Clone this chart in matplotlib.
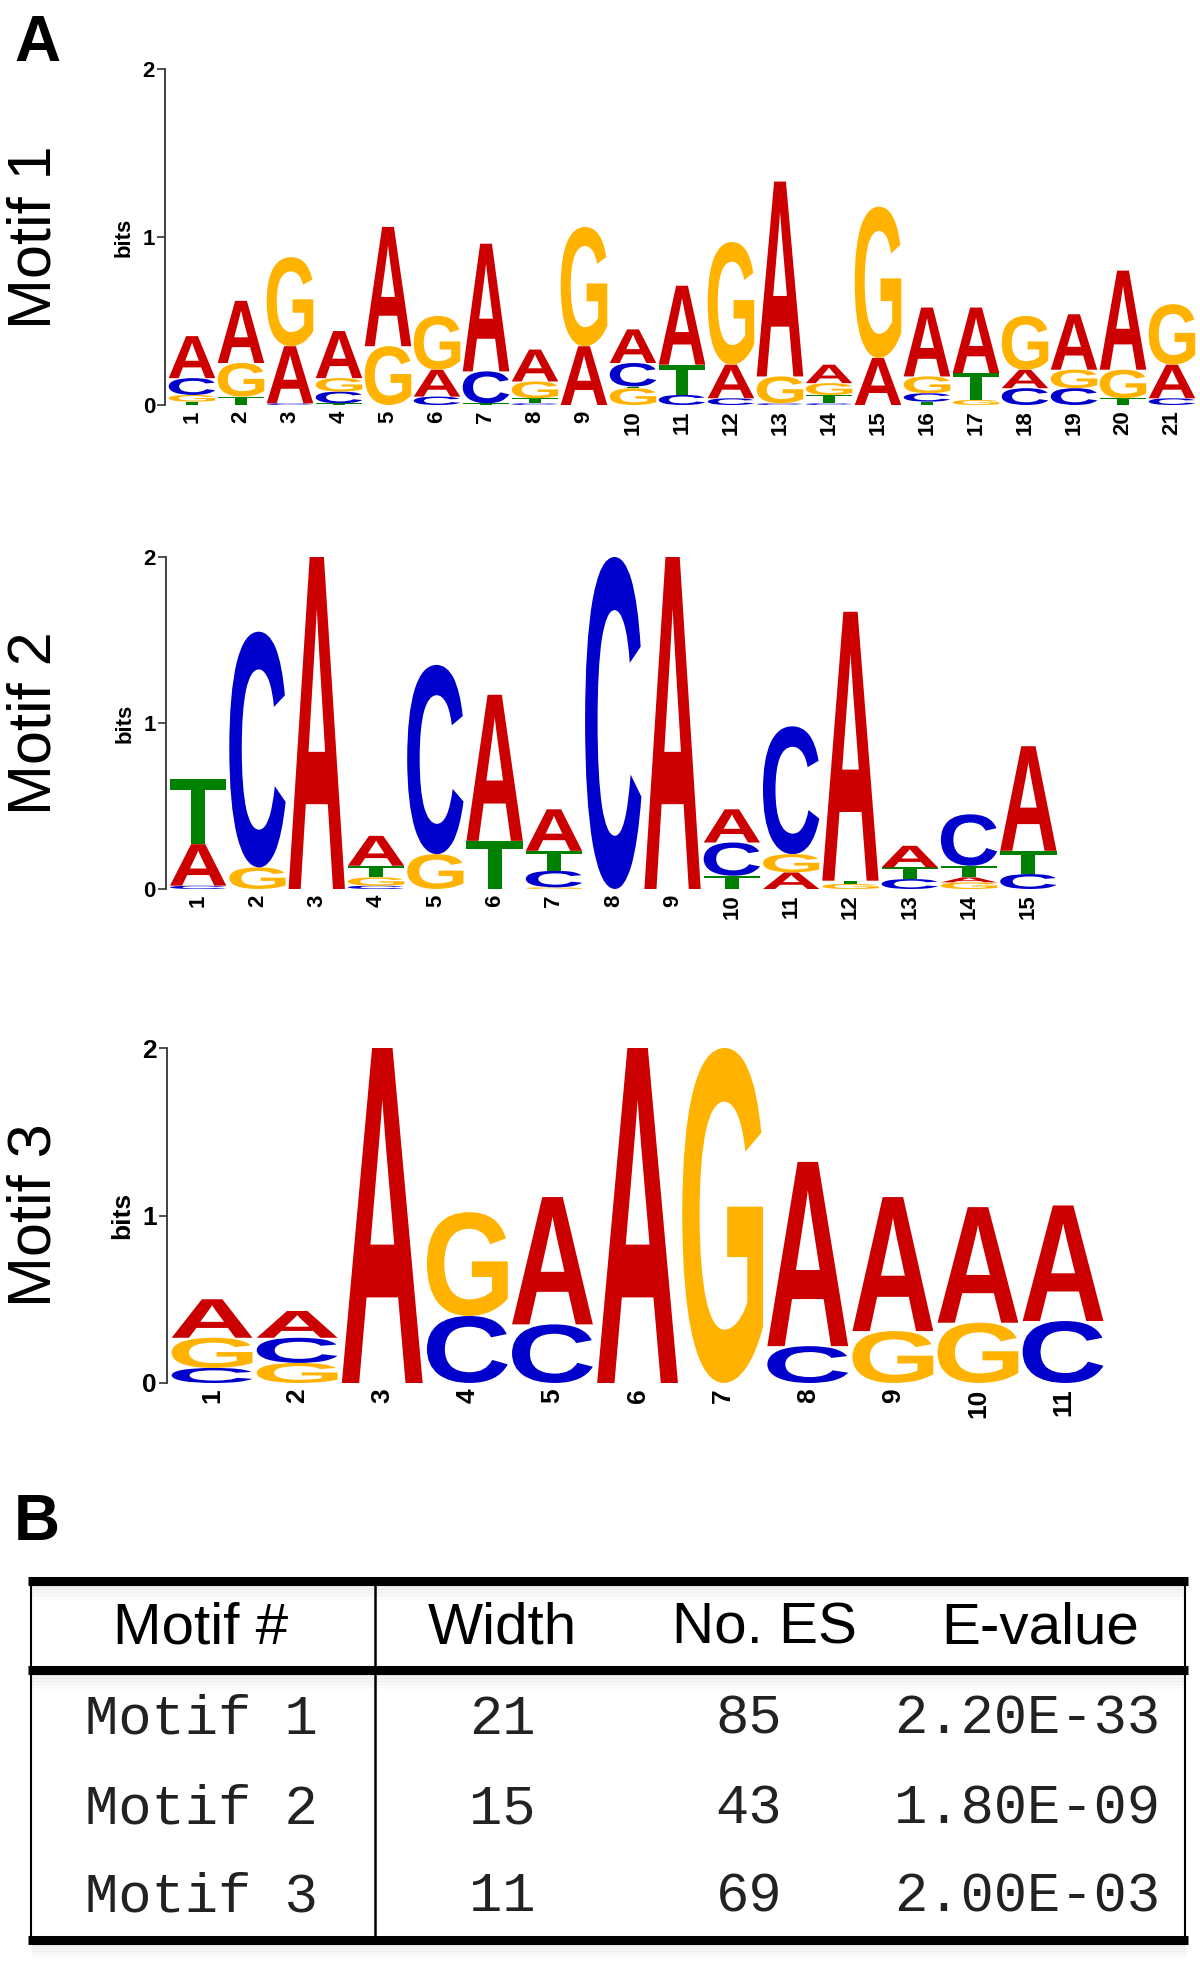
import matplotlib
matplotlib.use("Agg")
import matplotlib.pyplot as plt
import matplotlib.transforms as mtransforms
from matplotlib.font_manager import FontProperties
from matplotlib.patches import PathPatch
from matplotlib.textpath import TextPath


# letter stacks, bottom to top, with heights in bits
motif1_letters = ["TGCA", "TGA", "CAG", "TCGA", "GA", "CAG", "TCA", "CTGA", "AG", "GTCA",
                  "CTA", "CAG", "CGA", "CTGA", "AG", "TCGA", "GTA", "CAG", "CGA", "TGA", "CAG"]
motif1_bits = [[0.02, 0.04, 0.10, 0.25], [0.05, 0.20, 0.37], [0.01, 0.34, 0.53],
               [0.01, 0.07, 0.08, 0.28], [0.35, 0.71], [0.05, 0.16, 0.32],
               [0.01, 0.19, 0.76], [0.01, 0.03, 0.10, 0.19], [0.35, 0.71],
               [0.10, 0.01, 0.14, 0.20], [0.06, 0.18, 0.47], [0.04, 0.20, 0.73],
               [0.01, 0.16, 1.16], [0.01, 0.05, 0.07, 0.11], [0.28, 0.90],
               [0.02, 0.05, 0.10, 0.41], [0.03, 0.16, 0.39], [0.10, 0.11, 0.32],
               [0.10, 0.11, 0.33], [0.04, 0.17, 0.59], [0.04, 0.20, 0.36]]

motif2_letters = ["CAT", "GC", "A", "CGTA", "GC", "TA", "GCTA", "C", "A", "TCA",
                  "AGC", "GTA", "CTA", "GATC", "CTA"]
motif2_bits = [[0.02, 0.25, 0.39], [0.13, 1.42], [2.0], [0.02, 0.05, 0.07, 0.18],
               [0.21, 1.14], [0.29, 0.88], [0.01, 0.10, 0.12, 0.25], [2.0], [2.0],
               [0.08, 0.20, 0.20], [0.10, 0.11, 0.77], [0.03, 0.02, 1.62],
               [0.06, 0.07, 0.13], [0.04, 0.03, 0.07, 0.31], [0.09, 0.14, 0.63]]

motif3_letters = ["CGA", "GCA", "A", "CG", "CA", "A", "G", "CA", "GA", "GA", "CA"]
motif3_bits = [[0.09, 0.18, 0.23], [0.12, 0.15, 0.16], [2.0], [0.40, 0.62],
               [0.35, 0.76], [2.0], [2.0], [0.22, 1.10], [0.31, 0.80], [0.36, 0.69],
               [0.37, 0.69]]

table_header = ["Motif #", "Width", "No. ES", "E-value"]
table_names = ["Motif 1", "Motif 2", "Motif 3"]
table_width = [21, 15, 11]
table_es = [85, 43, 69]
table_evalue = ["2.20E-33", "1.80E-09", "2.00E-03"]

COLORS = {"A": "#CC0000", "C": "#0000CC", "G": "#FFB300", "T": "#008000"}

W, H = 1200, 1966
fig = plt.figure(figsize=(W / 100, H / 100), dpi=100)

glyph_font = FontProperties(family="Liberation Sans", weight="bold")
GLYPHS = {c: TextPath((0, 0), c, size=1, prop=glyph_font) for c in "ACGT"}


def draw_letter(ax, ch, x, y, w, h):
    path = GLYPHS[ch]
    bb = path.get_extents()
    t = (mtransforms.Affine2D()
         .translate(-bb.x0, -bb.y0)
         .scale(w / bb.width, h / bb.height)
         .translate(x - w / 2, y))
    ax.add_patch(PathPatch(t.transform_path(path), fc=COLORS[ch], ec="none",
                           lw=0, clip_on=False))


def logo(box, letters, bits, label, tick_size=16):
    # box = (left px, right px, baseline px, 2-bit px)
    left, right, y0, y2 = box
    ax = fig.add_axes([left / W, 1 - y0 / H, (right - left) / W, (y0 - y2) / H])
    n = len(letters)
    for i, (stack, hs) in enumerate(zip(letters, bits)):
        y = 0
        for ch, h in zip(stack, hs):
            draw_letter(ax, ch, i + 1, y, 0.95, h)
            y += h
    ax.set_xlim(0.5, n + 0.5)
    ax.set_ylim(0, 2)
    for s in ["top", "right", "bottom"]:
        ax.spines[s].set_visible(False)
    ax.spines["left"].set_position(("outward", 2))
    ax.spines["left"].set_color("#333333")
    ax.spines["left"].set_linewidth(1.3)
    tick_font = dict(fontweight="bold", fontsize=tick_size, family="Liberation Sans")
    ax.set_yticks([0, 1, 2])
    ax.set_yticklabels(["0", "1", "2"], **tick_font)
    ax.tick_params(axis="y", length=6, width=1.2, color="#333333", pad=1)
    ax.set_xticks(range(1, n + 1))
    ax.set_xticklabels([str(k) for k in range(1, n + 1)], rotation=90, **tick_font)
    ax.tick_params(axis="x", length=0, pad=4)
    ax.set_ylabel("bits", labelpad=6, **tick_font)
    ax.patch.set_alpha(0)
    cy = 1 - (y0 + y2) / 2 / H
    fig.text(35 / W, cy, label, rotation=90, ha="center", va="center",
             fontsize=44, family="Liberation Sans")
    return ax


logo((167.5, 1196.5, 405, 69), motif1_letters, motif1_bits, "Motif 1")
logo((168.5, 1058, 889, 557), motif2_letters, motif2_bits, "Motif 2")
logo((169.5, 1105.6, 1383, 1048), motif3_letters, motif3_bits, "Motif 3", tick_size=19)

fig.text(14 / W, 1 - 44 / H, "A", fontsize=46, fontweight="bold",
         family="Liberation Sans", va="center", ha="left")
fig.text(14 / W, 1 - 1523 / H, "B", fontsize=46, fontweight="bold",
         family="Liberation Sans", va="center", ha="left")

# table (B) drawn on an axes in pixel coordinates
tax = fig.add_axes([0, 0, 1, 1])
tax.set_xlim(0, W)
tax.set_ylim(H, 0)
tax.axis("off")

x_l, x_r = 28, 1188
for yl in [1581, 1670, 1940]:
    for k in range(1, 12):
        tax.plot([x_l + 4, x_r - 2], [yl + 3 + k * 1.5] * 2, color="gray",
                 lw=1.6, alpha=0.10 * (1 - k / 12), solid_capstyle="butt")
    tax.plot([x_l, x_r], [yl, yl], color="black", lw=6.5, solid_capstyle="butt")
tax.plot([31, 31], [1581, 1940], color="black", lw=1.5)
tax.plot([1185, 1185], [1581, 1940], color="black", lw=1.5)
tax.plot([375, 375], [1581, 1940], color="black", lw=1.8)

col_x = [201, 502, 764, 1040]
for x, t in zip(col_x, table_header):
    tax.text(x, 1628, t, ha="center", va="center", fontsize=42,
             family="Liberation Sans")

row_y = [1720, 1810, 1897]
val_x = [201, 502, 749, 1027]
for r, y in enumerate(row_y):
    vals = [table_names[r], str(table_width[r]), str(table_es[r]), table_evalue[r]]
    for x, t in zip(val_x, vals):
        tax.text(x, y, t, ha="center", va="center", fontsize=40,
                 family=["Liberation Mono", "DejaVu Sans Mono"], color="#222222")

fig.savefig("out.png", dpi=100)
